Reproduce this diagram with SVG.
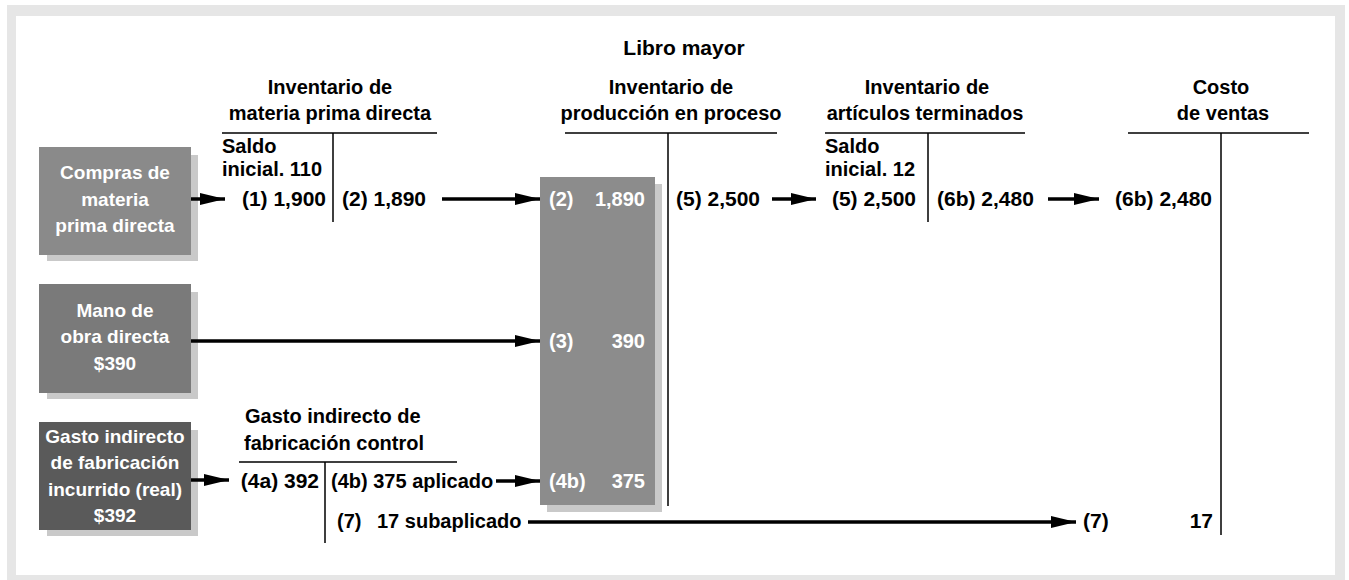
<svg xmlns="http://www.w3.org/2000/svg" width="1349" height="580" viewBox="0 0 1349 580">
<defs>
<marker id="ah" markerUnits="userSpaceOnUse" markerWidth="26" markerHeight="14" refX="25" refY="7" orient="auto">
<path d="M0,1 L25,7 L0,13 Z" fill="#000"/>
</marker>
<style>
text{font-family:"Liberation Sans",Arial,Helvetica,sans-serif;font-weight:bold;font-size:20px;fill:#000}
.n{font-size:21px}
.w{fill:#fff;font-size:19px}
.wn{fill:#fff;font-size:20px}
.c{text-anchor:middle}
.e{text-anchor:end}
.t{stroke:#000;stroke-width:1.5;fill:none}
.arr{stroke:#000;stroke-width:3.5;fill:none;marker-end:url(#ah)}
.sh{fill:#c9c9c9}
</style>
</defs>
<rect x="7" y="5" width="1338" height="585" fill="#e6e6e6"/>
<rect x="16" y="16" width="1319" height="559" fill="#fff"/>
<text class="c" x="684" y="55" style="font-size:21px">Libro mayor</text>

<g id="box-compras">
<rect class="sh" x="47" y="155" width="151" height="106"/>
<rect x="39" y="147" width="152" height="108" fill="#8a8a8a"/>
<text class="w c" x="115" y="179">Compras de</text>
<text class="w c" x="115" y="206">materia</text>
<text class="w c" x="115" y="232">prima directa</text>
</g>
<g id="box-mano">
<rect class="sh" x="47" y="292" width="151" height="107"/>
<rect x="39" y="284" width="152" height="109" fill="#7a7a7a"/>
<text class="w c" x="115" y="317">Mano de</text>
<text class="w c" x="115" y="343">obra directa</text>
<text class="w c" x="115" y="370">$390</text>
</g>
<g id="box-gasto">
<rect class="sh" x="47" y="430" width="151" height="106"/>
<rect x="39" y="422" width="152" height="108" fill="#5a5a5a"/>
<text class="w c" x="115" y="443">Gasto indirecto</text>
<text class="w c" x="115" y="469">de fabricación</text>
<text class="w c" x="115" y="496">incurrido (real)</text>
<text class="w c" x="115" y="522">$392</text>
</g>

<g id="acct-mp">
<text class="c" x="330" y="94">Inventario de</text>
<text class="c" x="330" y="120">materia prima directa</text>
<path class="t" d="M222,133 H437 M333,133 V222"/>
<text x="222" y="153">Saldo</text>
<text x="222" y="176">inicial. 110</text>
<text class="n e" x="326" y="206">(1) 1,900</text>
<text class="n" x="342" y="206">(2) 1,890</text>
</g>

<g id="acct-pp">
<rect class="sh" x="547" y="184" width="115" height="328"/>
<rect x="540" y="177" width="115" height="328" fill="#8c8c8c"/>
<text class="wn" x="549" y="206">(2)</text>
<text class="wn e" x="645" y="206">1,890</text>
<text class="wn" x="549" y="348">(3)</text>
<text class="wn e" x="645" y="348">390</text>
<text class="wn" x="549" y="488">(4b)</text>
<text class="wn e" x="645" y="488">375</text>
<text class="c" x="671" y="94">Inventario de</text>
<text class="c" x="671" y="120">producción en proceso</text>
<path class="t" d="M565,133 H777 M668,133 V506"/>
<text class="n" x="676" y="206">(5) 2,500</text>
</g>

<g id="acct-at">
<text class="c" x="927" y="94">Inventario de</text>
<text class="c" x="925" y="120">artículos terminados</text>
<path class="t" d="M825,133 H1025 M928,133 V222"/>
<text x="825" y="153">Saldo</text>
<text x="825" y="176">inicial. 12</text>
<text class="n e" x="916" y="206">(5) 2,500</text>
<text class="n" x="937" y="206">(6b) 2,480</text>
</g>

<g id="acct-cv">
<text class="c" x="1221" y="94">Costo</text>
<text class="c" x="1223" y="120">de ventas</text>
<path class="t" d="M1128,133 H1309 M1221,133 V535"/>
<text class="n e" x="1212" y="206">(6b) 2,480</text>
<text class="n" x="1083" y="528">(7)</text>
<text class="n e" x="1213" y="528">17</text>
</g>

<g id="acct-gif">
<text x="245" y="423">Gasto indirecto de</text>
<text x="244" y="450">fabricación control</text>
<path class="t" d="M239,462 H457 M325,462 V543"/>
<text class="n e" x="319" y="488">(4a) 392</text>
<text x="331" y="488">(4b) 375 aplicado</text>
<text x="337" y="528">(7)</text>
<text x="377" y="528">17 subaplicado</text>
</g>

<g id="connectors">
<line class="arr" x1="496" y1="481" x2="540" y2="481"/>
<line class="arr" x1="191" y1="199" x2="225" y2="199"/>
<line class="arr" x1="442" y1="199" x2="540" y2="199"/>
<line class="arr" x1="772" y1="199" x2="816" y2="199"/>
<line class="arr" x1="1048" y1="199" x2="1099" y2="199"/>
<line class="arr" x1="191" y1="341" x2="540" y2="341"/>
<line class="arr" x1="191" y1="480" x2="229" y2="480"/>
<line class="arr" x1="528" y1="522" x2="1076" y2="522"/>
</g>
</svg>
